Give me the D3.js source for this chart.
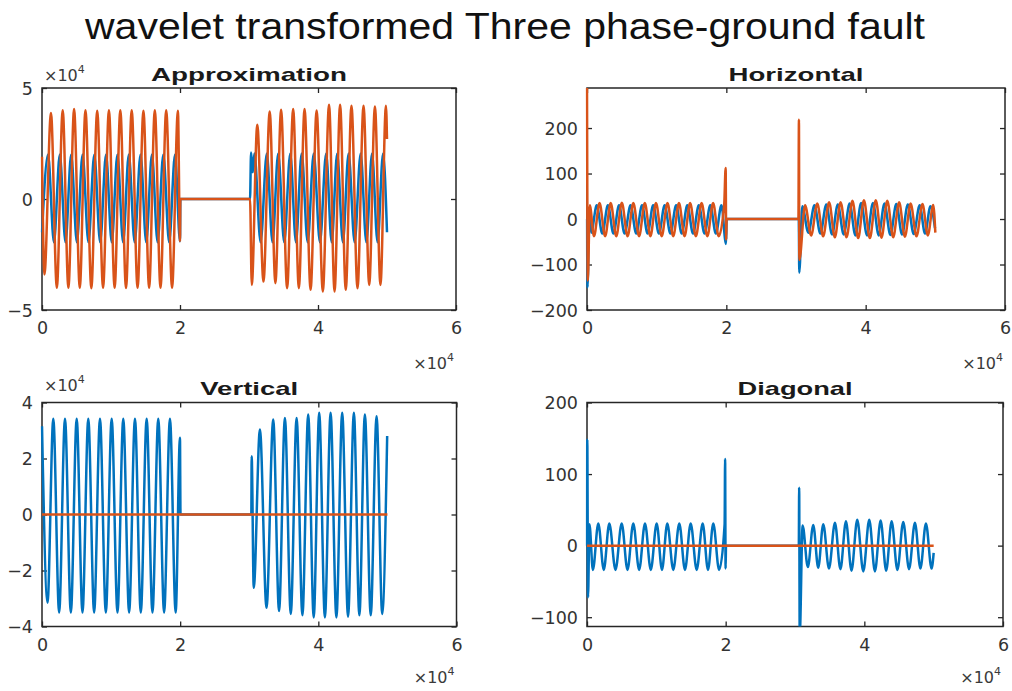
<!DOCTYPE html>
<html>
<head>
<meta charset="utf-8">
<script src="https://cdn.jsdelivr.net/npm/d3@7"></script>
<style>
  html, body { margin: 0; padding: 0; background: #fff; }
  svg { display: block; }
</style>
</head>
<body>
<svg id="fig" width="1012" height="691"></svg>
<script>
// ---------------------------------------------------------------
// Wavelet decomposition of a three phase-ground fault signal.
// Each series is stored as its turning points [sample, value];
// the plotting code joins them with a smooth monotone curve.
// ---------------------------------------------------------------

// shared x axis (samples)
const xTickValues = [0, 20000, 40000, 60000];
const xTickLabels = ["0", "2", "4", "6"];

// y axis ticks per subplot
const approxTickValues = [-50000, 0, 50000];
const approxTickLabels = ["\u22125", "0", "5"];
const horizTickValues = [-200, -100, 0, 100, 200];
const horizTickLabels = ["\u2212200", "\u2212100", "0", "100", "200"];
const vertTickValues = [-40000, -20000, 0, 20000, 40000];
const vertTickLabels = ["\u22124", "\u22122", "0", "2", "4"];
const diagTickValues = [-100, 0, 100, 200];
const diagTickLabels = ["\u2212100", "0", "100", "200"];

// Approximation coefficients
const approxBlue = [
  [0, -15000], [880, 20000], [1730, -19500], [2580, 20000], [3405, -19500],
  [4230, 20000], [5055, -19500], [5880, 20000], [6730, -19500], [7580, 20000],
  [8430, -19500], [9280, 20000], [10105, -19500], [10930, 20000], [11755, -19500],
  [12580, 20000], [13430, -19500], [14280, 20000], [15105, -19500], [15930, 20000],
  [16755, -19500], [17580, 20000], [18430, -19500], [19280, 20000], [20000, -19000],
  [20050, 0], [30150, 0], [30300, 21000], [30550, 12000], [30780, 20500],
  [31680, -19500], [32580, 20500], [33405, -19500], [34230, 20500], [35105, -19500],
  [35980, 20500], [36805, -19500], [37630, 20500], [38505, -19500], [39380, 20500],
  [40280, -19500], [41180, 20500], [41980, -19500], [42780, 20500], [43605, -19500],
  [44430, 20500], [45305, -19500], [46180, 20500], [47005, -19500], [47830, 20500],
  [48630, -19500], [49430, 20500], [50000, -15000]
];
const approxOrange = [
  [0, 19000], [350, -34000], [1300, 38700], [2150, -40000], [3000, 40000],
  [3825, -40000], [4650, 40500], [5475, -40000], [6300, 40000], [7150, -40200],
  [8000, 39800], [8850, -40000], [9700, 40000], [10525, -40000], [11350, 40000],
  [12175, -40100], [13000, 40000], [13850, -40000], [14700, 39800], [15525, -40000],
  [16350, 40000], [17175, -40000], [18000, 40000], [18850, -40000], [19700, 39800],
  [20000, -19000], [20050, 0], [30150, 0], [30400, -38700], [31200, 33500],
  [32100, -37200], [33000, 39400], [33825, -37900], [34650, 40200], [35525, -40200],
  [36400, 40500], [37225, -40200], [38050, 40500], [38925, -40900], [39800, 39900],
  [40700, -41700], [41600, 42400], [42400, -41700], [43200, 42400], [44025, -40900],
  [44850, 42000], [45725, -40200], [46600, 42000], [47425, -38700], [48250, 41700],
  [49050, -38700], [49850, 42000], [50000, 27000]
];

// Horizontal detail coefficients
const horizBlue = [
  [0, 0], [80, -150], [300, 25], [600, -30], [1400, 30], [2200, -32],
  [3000, 30], [3800, -32], [4600, 30], [5400, -32], [6250, 30], [7075, -32],
  [7900, 30], [8700, -32], [9500, 30], [10325, -32], [11150, 30], [11975, -32],
  [12800, 30], [13600, -32], [14400, 30], [15225, -32], [16050, 30], [16875, -32],
  [17700, 30], [18500, -32], [19300, 30], [19950, -55], [20050, 0],
  [30400, 0], [30470, -118], [30900, 28], [31775, -30], [32650, 30], [33500, -32],
  [34350, 32], [35175, -34], [36000, 32], [36850, -34], [37700, 34], [38525, -36],
  [39350, 35], [40200, -36], [41050, 35], [41875, -36], [42700, 34], [43550, -35],
  [44400, 33], [45225, -34], [46050, 32], [46900, -33], [47750, 30], [48525, -32],
  [49300, 28], [49950, -20]
];
const horizOrange = [
  [0, 290], [120, -135], [400, 30], [1000, -38], [1800, 35], [2600, -38],
  [3400, 35], [4200, -38], [5000, 36], [5825, -38], [6650, 35], [7475, -38],
  [8300, 35], [9100, -38], [9900, 35], [10725, -38], [11550, 35], [12375, -38],
  [13200, 35], [14000, -38], [14800, 35], [15625, -38], [16450, 35], [17275, -38],
  [18100, 35], [18900, -38], [19700, 34], [19900, 112], [19980, -45], [20050, 0],
  [30350, 0], [30420, 218], [30480, -90], [31300, 30], [32175, -36], [33050, 34],
  [33900, -38], [34750, 37], [35575, -40], [36400, 37], [37250, -40], [38100, 40],
  [38925, -42], [39750, 41], [40600, -42], [41450, 41], [42275, -41], [43100, 40],
  [43950, -40], [44800, 37], [45625, -39], [46450, 34], [47300, -38], [48150, 33],
  [48925, -36], [49700, 31], [50000, -30]
];

// Vertical detail coefficients
const vertBlue = [
  [0, 31500], [800, -31500], [1635, 34200], [2480, -35000], [3328, 34200],
  [4175, -35000], [5021, 34200], [5860, -35000], [6700, 34200], [7545, -35000],
  [8393, 34200], [9240, -35000], [10086, 34200], [10925, -35000], [11764, 34200],
  [12610, -35000], [13457, 34200], [14300, -35000], [15150, 34200], [15990, -35000],
  [16829, 34200], [17675, -35000], [18522, 34200], [19350, -35000], [19970, 27400],
  [20050, 0], [30300, 0], [30350, 20800], [30650, -26200], [31545, 30400],
  [32500, -33300], [33469, 33900], [34315, -34500], [35162, 34500], [36010, -35500],
  [36855, 34500], [37695, -36000], [38534, 35700], [39330, -36800], [40126, 36300],
  [40950, -36800], [41775, 36300], [42615, -36800], [43454, 36300], [44300, -36500],
  [45146, 36300], [45940, -36000], [46738, 35700], [47585, -36000], [48431, 35100],
  [49250, -35500], [49965, 28000]
];
const vertOrange = [[0, 0], [50000, 0]];

// Diagonal detail coefficients
const diagBlue = [
  [0, 0], [40, 148], [150, -72], [350, 30], [850, -34], [1629, 31], [2420, -34],
  [3216, 31], [4110, -34], [5004, 31], [5840, -34], [6676, 31], [7520, -34],
  [8364, 31], [9200, -34], [10051, 31], [10815, -34], [11579, 31], [12445, -34],
  [13310, 31], [14130, -34], [14954, 31], [15820, -34], [16684, 31], [17450, -34],
  [18212, 31], [19050, -34], [19850, 30], [19920, 121], [19990, -32], [20050, 0],
  [30550, 0], [30600, 81], [30680, -125], [31100, 28], [31850, -30], [32633, 29],
  [33350, -31], [34074, 30], [34900, -32], [35762, 32], [36550, -33], [37348, 34],
  [38150, -35], [38977, 36], [39850, -36], [40708, 36], [41530, -36], [42351, 35],
  [43150, -35], [43938, 34], [44770, -34], [45611, 33], [46450, -33], [47298, 32],
  [48090, -32], [48884, 31], [49700, -32], [50000, -10]
];
const diagOrange = [[0, 0], [50000, 0]];

// ---------------------------------------------------------------
const COLORS = ["#0072BD", "#D95319"];
const AXIS = "#262626";
const TICK_FONT = "'DejaVu Sans', sans-serif";
const TEXT_FONT = "'Liberation Sans', Arial, sans-serif";

const svg = d3.select("#fig");

// figure title
svg.append("text")
  .attr("x", 505).attr("y", 39)
  .attr("text-anchor", "middle")
  .attr("font-family", TEXT_FONT)
  .attr("font-size", 37)
  .attr("fill", "#111")
  .attr("textLength", 840)
  .attr("lengthAdjust", "spacingAndGlyphs")
  .text("wavelet transformed Three phase-ground fault");

const panels = [
  { title: "Approximation", titleLen: 196, titleY: 81,
    box: { l: 42, t: 88, r: 456, b: 310 },
    yDomain: [-50000, 50000], yTicks: approxTickValues, yLabels: approxTickLabels,
    series: [approxBlue, approxOrange], yExp: [44, 81], xExpY: 369 },
  { title: "Horizontal", titleLen: 135, titleY: 81,
    box: { l: 587, t: 88, r: 1005, b: 310 },
    yDomain: [-200, 288], yTicks: horizTickValues, yLabels: horizTickLabels,
    series: [horizBlue, horizOrange], yExp: null, xExpY: 369 },
  { title: "Vertical", titleLen: 98, titleY: 395,
    box: { l: 42, t: 402.5, r: 456.5, b: 626.5 },
    yDomain: [-40000, 40000], yTicks: vertTickValues, yLabels: vertTickLabels,
    series: [vertBlue, vertOrange], yExp: [44, 391], xExpY: 683 },
  { title: "Diagonal", titleLen: 115, titleY: 395,
    box: { l: 587, t: 402.5, r: 1003, b: 626.5 },
    yDomain: [-113, 200], yTicks: diagTickValues, yLabels: diagTickLabels,
    series: [diagBlue, diagOrange], yExp: null, xExpY: 683 }
];

function expLabel(g, x, y, anchor) {
  const t = g.append("text")
    .attr("x", x).attr("y", y)
    .attr("text-anchor", anchor)
    .attr("font-family", TICK_FONT)
    .attr("font-size", 16)
    .attr("fill", "#3a3a3a");
  t.append("tspan").text("\u00d710");
  t.append("tspan").attr("dy", -8).attr("font-size", 11).text("4");
}

panels.forEach((p, i) => {
  const { l, t, r, b } = p.box;
  const g = svg.append("g");

  const x = d3.scaleLinear().domain([0, 60000]).range([l, r]);
  const y = d3.scaleLinear().domain(p.yDomain).range([b, t]);

  // axes box
  g.append("rect")
    .attr("x", l).attr("y", t)
    .attr("width", r - l).attr("height", b - t)
    .attr("fill", "none").attr("stroke", AXIS).attr("stroke-width", 1.5);

  // inward ticks on all four sides
  const tl = 5;
  const bottomAxis = d3.axisBottom(x).tickValues(xTickValues)
    .tickSizeInner(-tl).tickSizeOuter(0).tickFormat((d, k) => xTickLabels[k]);
  const topAxis = d3.axisTop(x).tickValues(xTickValues)
    .tickSizeInner(-tl).tickSizeOuter(0).tickFormat("");
  const leftAxis = d3.axisLeft(y).tickValues(p.yTicks)
    .tickSizeInner(-tl).tickSizeOuter(0).tickFormat((d, k) => p.yLabels[k]);
  const rightAxis = d3.axisRight(y).tickValues(p.yTicks)
    .tickSizeInner(-tl).tickSizeOuter(0).tickFormat("");

  const styleAxis = sel => {
    sel.select(".domain").remove();
    sel.selectAll(".tick line").attr("stroke", AXIS).attr("stroke-width", 1.3);
    sel.selectAll(".tick text")
      .attr("font-family", TICK_FONT).attr("font-size", 17.5).attr("fill", "#333");
  };

  g.append("g").attr("transform", `translate(0,${b})`).call(bottomAxis).call(styleAxis)
    .selectAll(".tick text").attr("y", 12).attr("dy", "0.71em");
  g.append("g").attr("transform", `translate(0,${t})`).call(topAxis).call(styleAxis);
  g.append("g").attr("transform", `translate(${l},0)`).call(leftAxis).call(styleAxis)
    .selectAll(".tick text").attr("x", -9).attr("dy", "0.36em");
  g.append("g").attr("transform", `translate(${r},0)`).call(rightAxis).call(styleAxis);

  // data, clipped to the axes box
  const clipId = "clip" + i;
  svg.append("clipPath").attr("id", clipId)
    .append("rect").attr("x", l - 1.5).attr("y", t).attr("width", r - l + 3).attr("height", b - t);

  const line = d3.line()
    .x(d => x(d[0]))
    .y(d => y(d[1]))
    .curve(d3.curveMonotoneX);

  const dg = g.append("g").attr("clip-path", `url(#${clipId})`);
  p.series.forEach((s, k) => {
    dg.append("path")
      .datum(s)
      .attr("d", line)
      .attr("fill", "none")
      .attr("stroke", COLORS[k])
      .attr("stroke-width", 2.5)
      .attr("stroke-linejoin", "round");
  });

  // subplot title
  g.append("text")
    .attr("x", (l + r) / 2).attr("y", p.titleY)
    .attr("text-anchor", "middle")
    .attr("font-family", TEXT_FONT)
    .attr("font-weight", "bold")
    .attr("font-size", 18.5)
    .attr("fill", "#1a1a1a")
    .attr("textLength", p.titleLen)
    .attr("lengthAdjust", "spacingAndGlyphs")
    .text(p.title);

  // axis exponents
  if (p.yExp) expLabel(g, p.yExp[0], p.yExp[1], "start");
  expLabel(g, r - 2, p.xExpY, "end");
});
</script>
</body>
</html>
